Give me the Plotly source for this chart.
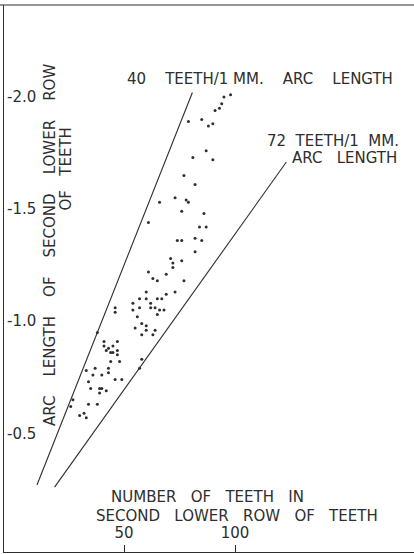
import plotly.graph_objects as go

# Number of teeth in the second lower row and the arc length of that row (mm)
teeth = [98, 95, 94, 93, 91, 85, 79, 90, 88, 81, 87, 90,
         77, 82, 66, 73, 78, 79, 76, 86, 61, 84, 87, 74, 76, 82, 85, 82,
         71, 72, 76, 72, 61, 69, 63,
         65, 77, 60, 69, 73, 57, 60, 65, 67, 54, 62, 57, 62, 64, 66, 68,
         46, 54, 46, 65, 56, 58, 60, 55, 60, 64, 58, 63, 38, 41, 47, 41,
         43, 45, 42, 45, 47, 44, 47, 44, 48, 58, 37, 43, 57, 33, 43, 36,
         40, 46, 49, 34, 35, 39, 40, 42, 39, 27, 34, 38, 26, 32, 30, 33]
arc_length = [2.01, 2.00, 1.97, 1.95, 1.94, 1.90, 1.89, 1.88, 1.87, 1.73, 1.76, 1.72,
              1.65, 1.61, 1.53, 1.55, 1.54, 1.53, 1.49, 1.48, 1.44, 1.42, 1.42, 1.36, 1.36, 1.37, 1.36, 1.31,
              1.28, 1.26, 1.27, 1.24, 1.22, 1.21, 1.19,
              1.18, 1.18, 1.13, 1.12, 1.13, 1.10, 1.10, 1.10, 1.10, 1.08, 1.08, 1.06, 1.06, 1.06, 1.05, 1.05,
              1.06, 1.05, 1.04, 1.03, 1.02, 0.99, 0.98, 0.97, 0.96, 0.96, 0.94, 0.94, 0.95, 0.91, 0.91, 0.89,
              0.88, 0.89, 0.87, 0.86, 0.87, 0.86, 0.85, 0.82, 0.82, 0.83, 0.79, 0.79, 0.79, 0.78, 0.77, 0.76,
              0.76, 0.74, 0.74, 0.73, 0.70, 0.70, 0.70, 0.69, 0.68, 0.65, 0.63, 0.63, 0.62, 0.59, 0.58, 0.57]

# Reference densities (teeth per mm of arc) and the arc range each guide line covers
line_rates = [40, 72]
line_arc_from = [0.27, 0.26]
line_arc_to = [2.02, 1.71]

x_tick_vals = [50, 100]
x_tick_text = ["50", "100"]
y_tick_vals = [0.5, 1.0, 1.5, 2.0]
y_tick_text = ["-0.5", "-1.0", "-1.5", "-2.0"]

INK = "#2e2e2e"
FONT = "DejaVu Sans"


def gap(n):
    return "\u00a0" * n


fig = go.Figure()

for rate, a0, a1 in zip(line_rates, line_arc_from, line_arc_to):
    fig.add_trace(go.Scatter(
        x=[rate * a0, rate * a1], y=[a0, a1], mode="lines",
        line=dict(color=INK, width=1.1), hoverinfo="skip", showlegend=False))

fig.add_trace(go.Scatter(
    x=teeth, y=arc_length, mode="markers",
    marker=dict(size=3, color=INK), showlegend=False))

fig.update_layout(
    width=414, height=554,
    margin=dict(l=4, r=0, t=5, b=2),
    paper_bgcolor="white", plot_bgcolor="white",
    font=dict(family=FONT, color=INK, size=15),
    xaxis=dict(range=[-4.05, 180.6], showgrid=False, zeroline=False,
               showline=True, linecolor=INK, linewidth=1.2,
               tickvals=x_tick_vals, ticktext=x_tick_text,
               ticks="inside", ticklen=7, tickcolor=INK, tickwidth=1,
               ticklabelposition="inside", ticklabelstandoff=4,
               tickfont=dict(family=FONT, size=15, color=INK)),
    yaxis=dict(range=[-0.029, 2.410], showgrid=False, zeroline=False,
               showline=True, linecolor=INK, linewidth=1.2,
               tickvals=y_tick_vals, ticktext=y_tick_text, ticks="",
               ticklabelposition="inside", ticklabelstandoff=3,
               tickfont=dict(family=FONT, size=15, color=INK)),
    shapes=[dict(type="line", xref="paper", yref="paper", x0=-0.01, x1=1,
                 y0=1, y1=1, line=dict(color=INK, width=1.2))],
)

ann = [
    # guide line labels
    dict(x=50.5, y=2.08, xref="x", yref="y", xanchor="left", yanchor="middle",
         text="40" + gap(4) + "TEETH/1 MM." + gap(4) + "ARC" + gap(4) + "LENGTH"),
    dict(x=113.5, y=1.805, xref="x", yref="y", xanchor="left", yanchor="middle",
         text="72" + gap(2) + "TEETH/1" + gap(2) + "MM."),
    dict(x=124.8, y=1.728, xref="x", yref="y", xanchor="left", yanchor="middle",
         text="ARC" + gap(3) + "LENGTH"),
    # axis titles
    dict(x=0.256, y=0.1005, xref="paper", yref="paper", xanchor="left", yanchor="middle",
         text="NUMBER" + gap(3) + "OF" + gap(3) + "TEETH" + gap(3) + "IN"),
    dict(x=0.2195, y=0.0649, xref="paper", yref="paper", xanchor="left", yanchor="middle",
         text="SECOND" + gap(3) + "LOWER" + gap(3) + "ROW" + gap(3) + "OF" + gap(3) + "TEETH"),
    dict(x=0.112, y=0.561, xref="paper", yref="paper", xanchor="center", yanchor="middle",
         textangle=-90,
         text="ARC" + gap(4) + "LENGTH" + gap(4) + "OF" + gap(4) + "SECOND"
              + gap(4) + "LOWER" + gap(4) + "ROW"),
    dict(x=0.151, y=0.701, xref="paper", yref="paper", xanchor="center", yanchor="middle",
         textangle=-90, text="OF" + gap(3) + "TEETH"),
]
for a in ann:
    a.update(showarrow=False, font=dict(family=FONT, size=15, color=INK))
fig.update_layout(annotations=ann)

fig.write_html("out.html")
